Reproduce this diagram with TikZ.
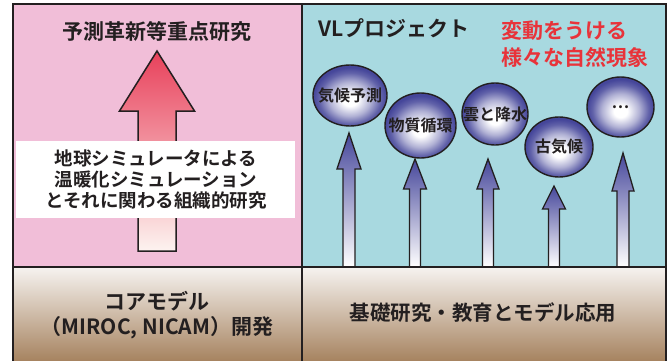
\documentclass[tikz,border=0pt]{standalone}
\usepackage{fontspec}
\setmainfont{Noto Sans CJK JP}[BoldFont={Noto Sans CJK JP Bold}]
\usetikzlibrary{shapes.geometric}
\definecolor{ink}{HTML}{231F20}
\definecolor{pinkbg}{HTML}{F1BED8}
\definecolor{cyanbg}{HTML}{A8D9E0}
\definecolor{browntop}{HTML}{F6F3F0}
\definecolor{brownbot}{HTML}{A27D58}
\definecolor{redtop}{HTML}{E8405A}
\definecolor{redbot}{HTML}{FDF3F0}
\definecolor{bluetop}{HTML}{46479B}
\definecolor{redtxt}{HTML}{E8333A}
\definecolor{ballblue}{HTML}{45469A}
\pgfdeclareradialshading{ballshade}{\pgfpoint{0bp}{-4bp}}{color(0bp)=(white); color(5bp)=(white); color(14bp)=(ballblue!42!white); color(21bp)=(ballblue!85!white); color(25bp)=(ballblue); color(50bp)=(ballblue)}
\tikzset{
  frame/.style={draw=ink, line width=2.6pt},
  title/.style={text=ink, font=\fontsize{21}{24}\selectfont\bfseries, inner sep=0pt},
  ball/.style={ellipse, draw=ink, line width=1.4pt, shading=ballshade, minimum width=#1, inner sep=0pt},
  balltext/.style={text=ink, font=\fontsize{16}{18}\selectfont\bfseries},
  bluearrow/.style={draw=ink, line width=1.3pt, top color=bluetop, bottom color=white},
  redarrow/.style={draw=ink, line width=1.5pt, top color=redtop, bottom color=redbot},
}
\newcommand\vlarrow[6]{% x, tip y, head base y, half head, half shaft, bottom y
  \path[bluearrow] (#1,#2) -- (#1+#4,#3) -- (#1+#5,#3) -- (#1+#5,#6) -- (#1-#5,#6) -- (#1-#5,#3) -- (#1-#4,#3) -- cycle;}
\begin{document}
\begin{tikzpicture}[x=1pt,y=-1pt]
\useasboundingbox (0,0) rectangle (669,361);
% panels
\fill[pinkbg] (13,4) rectangle (302,267);
\fill[cyanbg] (302,4) rectangle (666,267);
\shade[top color=browntop, bottom color=brownbot] (13,267) rectangle (666,366);
% left panel
\node[title] (lefttitle) at (157,32) {予測革新等重点研究};
\path[redarrow] (157,51) -- (194.5,111) -- (176,111) -- (176,251) -- (138,251) -- (138,111) -- (119.5,111) -- cycle;
\fill[white] (16,141) rectangle (295,218);
\node[text=ink, font=\fontsize{18.5}{21}\selectfont\bfseries, align=center, inner sep=0pt] (simtext) at (156,179.5)
  {地球シミュレータによる\\温暖化シミュレーション\\とそれに関わる組織的研究};
% right panel
\node[title, anchor=west] (vltitle) at (318,28) {VLプロジェクト};
\node[title, text=redtxt, anchor=north west, align=left, font=\fontsize{21}{27}\selectfont\bfseries] (phen) at (501,20) {変動をうける\\様々な自然現象};
% arrows
\vlarrow{349}{133}{169}{12}{6}{267}
\vlarrow{415}{159}{189}{11.5}{5.5}{267}
\vlarrow{488}{159}{189}{11}{5.5}{267}
\vlarrow{554}{186}{209}{11.5}{5.5}{267}
\vlarrow{623}{153}{191}{11}{6}{267}
% balls
\node[ball=74pt, minimum height=61pt] (b1) at (350,95.5) {};
\node[balltext] at (b1) {気候予測};
\node[ball=71pt, minimum height=65pt] (b2) at (420.5,125.5) {};
\node[balltext] at (b2) {物質循環};
\node[ball=66pt, minimum height=62pt] (b3) at (495,114) {};
\node[balltext] at (b3) {雲と降水};
\node[ball=68pt, minimum height=60pt] (b4) at (559,147) {};
\node[balltext] at (b4) {古気候};
\node[ball=67pt, minimum height=60pt] (b5) at (620.5,107) {};
\node[balltext] at (b5) {…};
% bottom texts
\node[title, align=center, font=\fontsize{21}{25}\selectfont\bfseries] (core) at (157,315) {コアモデル\\（MIROC, NICAM）開発};
\node[title, font=\fontsize{20.5}{24}\selectfont\bfseries] (basic) at (483,313) {基礎研究・教育とモデル応用};
% frame
\draw[frame] (13,4) rectangle (666,370);
\draw[frame] (302,4) -- (302,370);
\draw[frame] (13,267) -- (666,267);
\end{tikzpicture}
\end{document}
